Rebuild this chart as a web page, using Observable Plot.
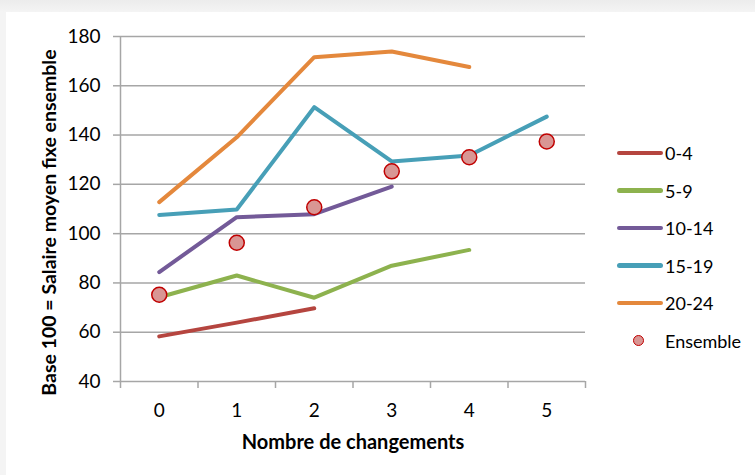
<!DOCTYPE html>
<html>
<head>
<meta charset="utf-8">
<script src="https://cdn.jsdelivr.net/npm/d3@7"></script>
<script src="https://cdn.jsdelivr.net/npm/@observablehq/plot@0.6"></script>
<style>
  html, body { margin: 0; padding: 0; }
  body { width: 755px; height: 475px; background: linear-gradient(#ececec, #f4f4f4 12px); position: relative; overflow: hidden; font-family: Lato, "Open Sans", sans-serif; }
  #panel { position: absolute; left: 6px; top: 12px; right: 0; bottom: 0; background: #fff; }
  #chart { position: absolute; left: 0; top: 0; }
  #legend { position: absolute; left: 0; top: 0; }
  .li { position: absolute; height: 20px; display: flex; align-items: center; font-size: 18px; color: #000; white-space: nowrap; }
  .sw { position: absolute; height: 4.5px; border-radius: 3px; }
</style>
</head>
<body>
<div id="panel"></div>
<div id="chart"></div>
<div id="legend"></div>
<script>
const categories = [0, 1, 2, 3, 4, 5];
const xTickLabels = ["0", "1", "2", "3", "4", "5"];
const yTicks = [40, 60, 80, 100, 120, 140, 160, 180];
const seriesNames = ["0-4", "5-9", "10-14", "15-19", "20-24"];
const seriesColors = ["#b5453f", "#8db24e", "#735a98", "#479fb7", "#e4883c"];
const s0_4 = [58.3, 63.9, 69.7];
const s5_9 = [74.2, 83.0, 74.0, 87.0, 93.4];
const s10_14 = [84.4, 106.7, 107.9, 119.1];
const s15_19 = [107.6, 109.8, 151.3, 129.3, 131.7, 147.5];
const s20_24 = [112.8, 139.1, 171.6, 173.9, 167.6];
const ensemble = [75.2, 96.3, 110.7, 125.3, 131.0, 137.4];
const ensembleName = "Ensemble";
const xTitle = "Nombre de changements";
const yTitle = "Base 100 = Salaire moyen fixe ensemble";

const allSeries = [s0_4, s5_9, s10_14, s15_19, s20_24];
const rows = [];
allSeries.forEach((vals, si) => vals.forEach((v, i) => rows.push({series: seriesNames[si], x: categories[i], y: v})));
const dots = ensemble.map((v, i) => ({x: categories[i], y: v}));
const bandEdges = [...categories.map(c => c - 0.5), categories[categories.length - 1] + 0.5];

const gridColor = "#a6a6a6";
const plot = Plot.plot({
  width: 755,
  height: 475,
  marginLeft: 120,
  marginRight: 170,
  marginTop: 36,
  marginBottom: 94,
  style: {background: "transparent", fontFamily: "Lato, 'Open Sans', sans-serif", fontSize: "19px", color: "#000", overflow: "visible"},
  x: {type: "linear", domain: [bandEdges[0], bandEdges[bandEdges.length - 1]]},
  y: {domain: [40, 180]},
  color: {domain: seriesNames, range: seriesColors},
  marks: [
    Plot.ruleY(yTicks.slice(1), {stroke: gridColor, strokeWidth: 1.5, x1: bandEdges[0], x2: bandEdges[bandEdges.length - 1]}),
    Plot.axisY({ticks: yTicks, tickSize: 7, tickPadding: 13, stroke: gridColor, strokeWidth: 1.5, strokeOpacity: 1, fontSize: 19, label: null, tickFormat: d => String(d)}),
    Plot.axisX({ticks: bandEdges, tickSize: 7, tickFormat: () => "", stroke: gridColor, strokeWidth: 1.5, strokeOpacity: 1, label: null}),
    Plot.axisX({ticks: categories, tickSize: 0, tickPadding: 22, tickFormat: d => xTickLabels[categories.indexOf(d)], fontSize: 19, label: null}),
    Plot.ruleY([40], {stroke: gridColor, strokeWidth: 1.5}),
    Plot.ruleX([bandEdges[0]], {stroke: gridColor, strokeWidth: 1.5}),
    Plot.line(rows, {x: "x", y: "y", z: "series", stroke: "series", strokeWidth: 4, strokeLinecap: "round", strokeLinejoin: "round"}),
    Plot.dot(dots, {x: "x", y: "y", r: 7.5, fill: "#d99694", stroke: "#c00000", strokeWidth: 1.5}),
    Plot.text([yTitle], {frameAnchor: "left", dx: -71, dy: 13.5, rotate: -90, fontWeight: "bold", fontSize: 19.5, textAnchor: "middle", lineAnchor: "middle"}),
    Plot.text([xTitle], {frameAnchor: "bottom", dy: 61, fontWeight: "bold", fontSize: 20, textAnchor: "middle", lineAnchor: "middle"})
  ]
});
document.getElementById("chart").appendChild(plot);

// legend
const legend = document.getElementById("legend");
const legendTop = 153, legendStep = 37.5;
seriesNames.forEach((name, i) => {
  const yc = legendTop + i * legendStep;
  const sw = document.createElement("div");
  sw.className = "sw";
  sw.style.left = "617px"; sw.style.width = "46px"; sw.style.top = (yc - 2.25) + "px";
  sw.style.background = seriesColors[i];
  legend.appendChild(sw);
  const t = document.createElement("div");
  t.className = "li";
  t.style.left = "665px"; t.style.top = (yc - 10) + "px";
  t.textContent = name;
  legend.appendChild(t);
});
{
  const yc = legendTop + 5 * legendStep;
  const d = document.createElement("div");
  d.style.cssText = `position:absolute;left:${639-6}px;top:${yc-6}px;width:9px;height:9px;border-radius:50%;background:#d99694;border:1.5px solid #c00000;`;
  legend.appendChild(d);
  const t = document.createElement("div");
  t.className = "li";
  t.style.left = "665px"; t.style.top = (yc - 10) + "px";
  t.textContent = ensembleName;
  legend.appendChild(t);
}
</script>
</body>
</html>
